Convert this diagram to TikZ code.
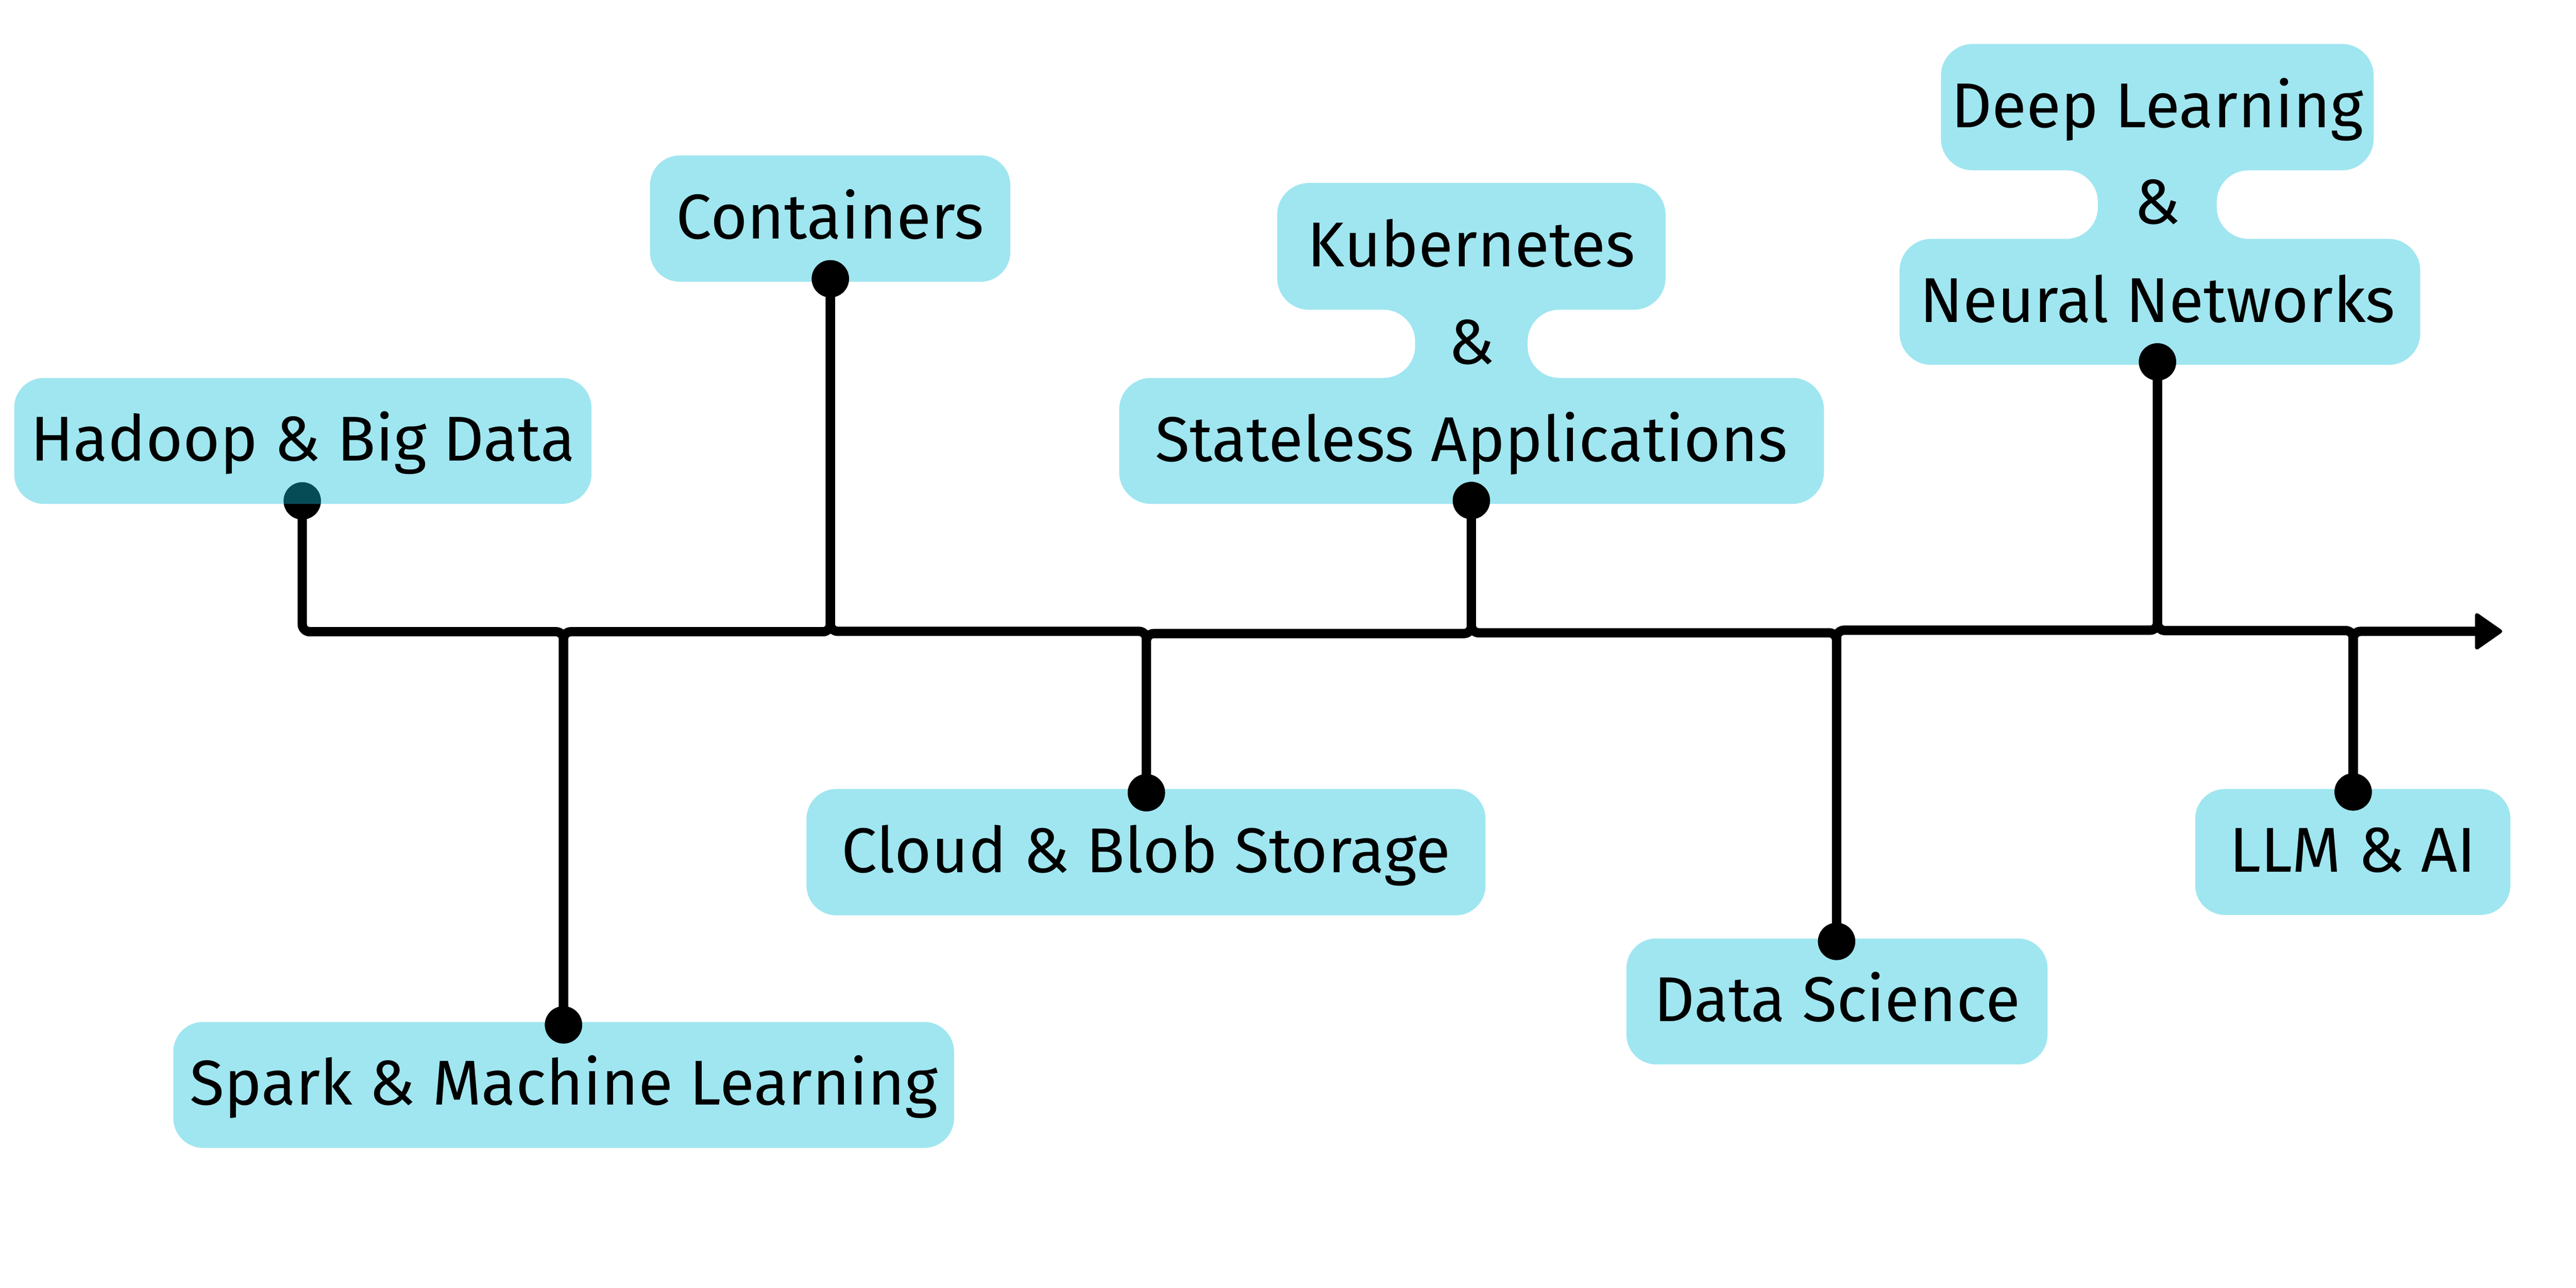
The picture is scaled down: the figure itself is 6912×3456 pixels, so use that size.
\documentclass[tikz,border=0pt]{standalone}
\usepackage{fontspec}
\setmainfont{Fira Sans}
\usetikzlibrary{arrows.meta}
\definecolor{boxcyan}{RGB}{160,230,240}
\definecolor{boxcore}{RGB}{17,192,217}
\begin{document}
\begin{tikzpicture}[x=0.1pt, y=-0.1pt,
  font=\fontsize{17}{20}\selectfont,
  box/.style={fill=boxcyan, rounded corners=8pt, inner sep=0pt, text height=10.8pt, text depth=0pt},
  glassbox/.style={box, fill=boxcore, fill opacity=0.4, text opacity=1},
  shapefill/.style={fill=boxcyan, rounded corners=8.5pt},
  lbl/.style={anchor=base, inner sep=0pt},
  conn/.style={line width=2.5pt, rounded corners=2pt},
  arrowhead/.style={fill=black, draw=black, line width=1pt, line join=round},
  dot/.style={circle, fill=black, minimum size=10pt, inner sep=0pt}]
\useasboundingbox (0,0) rectangle (6912,3456);

% opaque boxes
\node[box, minimum width=96.7pt, minimum height=33.9pt] (containers) at (2227.5,586.5) {Containers};
\node[box, minimum width=209.5pt, minimum height=33.8pt] (spark) at (1512.5,2911) {Spark \& Machine Learning};
\node[box, minimum width=182.2pt, minimum height=33.9pt] (cloud) at (3075,2286.5) {Cloud \& Blob Storage};
\node[box, minimum width=113pt, minimum height=33.8pt] (datasci) at (4929,2687) {Data Science};
\node[box, minimum width=84.6pt, minimum height=33.8pt] (llm) at (6313,2286) {LLM \& AI};

% Kubernetes compound shape
\fill[shapefill] (3948,491) -- (4469,491) -- (4469,831) -- (4099,831) -- (4099,1014)
  -- (4894,1014) -- (4894,1352) -- (3003,1352) -- (3003,1014) -- (3797,1014)
  -- (3797,831) -- (3427,831) -- (3427,491) -- cycle;
\node[lbl] (kub1) at (3948,715) {Kubernetes};
\node[lbl] (kub2) at (3948,976) {\&};
\node[lbl] (kub3) at (3948,1238) {Stateless Applications};

% Deep Learning compound shape
\fill[shapefill] (5788,118) -- (6369,118) -- (6369,457) -- (5948,457) -- (5948,641)
  -- (6494,641) -- (6494,979) -- (5097,979) -- (5097,641) -- (5629,641)
  -- (5629,457) -- (5208,457) -- (5208,118) -- cycle;
\node[lbl] (dl1) at (5788,342) {Deep Learning};
\node[lbl] (dl2) at (5788,600) {\&};
\node[lbl] (dl3) at (5789,865) {Neural Networks};

% dots
\node[dot] (hd) at (811,1344) {};
\node[dot] (sd) at (1512,2750) {};
\node[dot] (cd) at (2228,748) {};
\node[dot] (bd) at (3076,2127) {};
\node[dot] (kd) at (3948,1343) {};
\node[dot] (dd) at (4928,2526) {};
\node[dot] (nd) at (5789,971) {};
\node[dot] (ld) at (6314,2125) {};

% levels of the time line
\coordinate (L1) at (0,1695);
\coordinate (L2) at (0,1695);
\coordinate (L3) at (0,1694);
\coordinate (L4) at (0,1700);
\coordinate (L5) at (0,1698);
\coordinate (L6) at (0,1691);
\coordinate (L7) at (0,1692);
\coordinate (L8) at (0,1694);
\coordinate (abase) at (6652,1694);
\coordinate (tip) at (6709,1694);

\draw[conn] (hd.center) -- (hd.center |- L1) -- (sd.center |- L1) -- (sd.center);
\draw[conn] (sd.center) -- (sd.center |- L2) -- (cd.center |- L2) -- (cd.center);
\draw[conn] (cd.center) -- (cd.center |- L3) -- (bd.center |- L3) -- (bd.center);
\draw[conn] (bd.center) -- (bd.center |- L4) -- (kd.center |- L4) -- (kd.center);
\draw[conn] (kd.center) -- (kd.center |- L5) -- (dd.center |- L5) -- (dd.center);
\draw[conn] (dd.center) -- (dd.center |- L6) -- (nd.center |- L6) -- (nd.center);
\draw[conn] (nd.center) -- (nd.center |- L7) -- (ld.center |- L7) -- (ld.center);
\draw[conn] (ld.center) -- (ld.center |- L8) -- (abase);
\filldraw[arrowhead] (tip) -- ([xshift=-6.3pt, yshift=4.4pt]tip) -- ([xshift=-6.3pt, yshift=-4.4pt]tip) -- cycle;

% redraw dots on top of lines
\foreach \d in {sd,cd,bd,kd,dd,nd,ld} {\fill (\d) circle (5pt);}
\fill (hd) circle (5pt);

% translucent Hadoop box over its dot
\node[glassbox, minimum width=154.9pt, minimum height=33.8pt] (hadoop) at (812.5,1183) {Hadoop \& Big Data};
\end{tikzpicture}
\end{document}
